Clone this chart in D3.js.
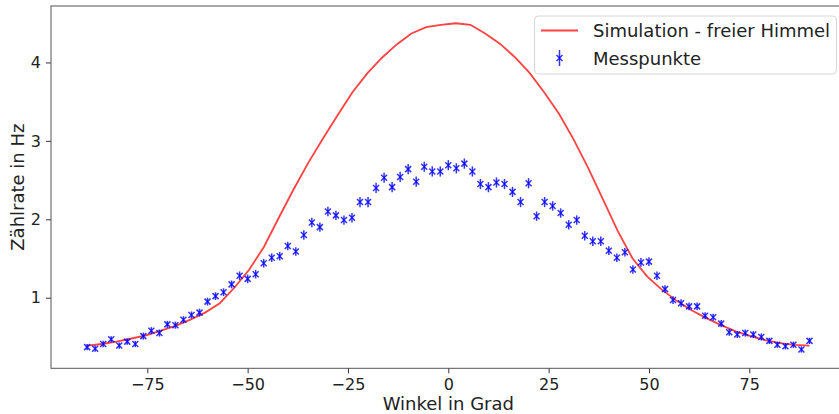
<!DOCTYPE html>
<html>
<head>
<meta charset="utf-8">
<script src="https://cdn.jsdelivr.net/npm/d3@7"></script>
<style>
  body { margin: 0; background: #fff; }
  svg { display: block; font-family: "DejaVu Sans", sans-serif; }
</style>
</head>
<body>
<svg id="chart" width="839" height="414"></svg>
<script>
// Simulation (freier Himmel), 50 Stützstellen
const simWinkel = [-90, -86.33, -82.65, -78.98, -75.31, -71.63, -67.96, -64.29, -60.61, -56.94,
  -53.27, -49.59, -45.92, -42.24, -38.57, -34.9, -31.22, -27.55, -23.88, -20.2,
  -16.53, -12.86, -9.18, -5.51, -1.84, 1.84, 5.51, 9.18, 12.86, 16.53,
  20.2, 23.88, 27.55, 31.22, 34.9, 38.57, 42.24, 45.92, 49.59, 53.27,
  56.94, 60.61, 64.29, 67.96, 71.63, 75.31, 78.98, 82.65, 86.33, 90];
const simRate = [0.39, 0.41, 0.44, 0.48, 0.52, 0.58, 0.64, 0.72, 0.81, 0.93,
  1.13, 1.36, 1.65, 2.02, 2.38, 2.72, 3.03, 3.33, 3.62, 3.86,
  4.06, 4.23, 4.37, 4.45, 4.48, 4.5, 4.48, 4.37, 4.24, 4.07,
  3.87, 3.62, 3.35, 3.02, 2.65, 2.25, 1.85, 1.5, 1.27, 1.1,
  0.96, 0.84, 0.74, 0.65, 0.57, 0.51, 0.46, 0.42, 0.4, 0.39];

// Messpunkte
const messWinkel = [-90, -88, -86, -84, -82, -80, -78, -76, -74, -72, -70, -68, -66, -64, -62, -60,
  -58, -56, -54, -52, -50, -48, -46, -44, -42, -40, -38, -36, -34, -32, -30, -28,
  -26, -24, -22, -20, -18, -16, -14, -12, -10, -8, -6, -4, -2, 0, 2, 4,
  6, 8, 10, 12, 14, 16, 18, 20, 22, 24, 26, 28, 30, 32, 34, 36,
  38, 40, 42, 44, 46, 48, 50, 52, 54, 56, 58, 60, 62, 64, 66, 68,
  70, 72, 74, 76, 78, 80, 82, 84, 86, 88, 90];
const messRate = [0.37, 0.35, 0.41, 0.47, 0.39, 0.44, 0.41, 0.51, 0.58, 0.55, 0.66, 0.65, 0.72, 0.78, 0.81, 0.95,
  1.02, 1.07, 1.17, 1.28, 1.24, 1.30, 1.44, 1.51, 1.53, 1.66, 1.59, 1.80, 1.96, 1.90, 2.10, 2.05,
  1.99, 2.02, 2.22, 2.22, 2.40, 2.53, 2.41, 2.54, 2.64, 2.48, 2.67, 2.61, 2.61, 2.69, 2.65, 2.71,
  2.61, 2.45, 2.41, 2.47, 2.45, 2.35, 2.22, 2.46, 2.04, 2.22, 2.17, 2.08, 1.93, 1.99, 1.79, 1.72,
  1.72, 1.60, 1.51, 1.58, 1.36, 1.45, 1.46, 1.28, 1.11, 0.97, 0.93, 0.89, 0.89, 0.77, 0.75, 0.67,
  0.56, 0.53, 0.55, 0.53, 0.50, 0.45, 0.40, 0.38, 0.40, 0.34, 0.45];
const messFehler = [0.04, 0.04, 0.04, 0.04, 0.04, 0.04, 0.04, 0.045, 0.045, 0.045, 0.045, 0.045, 0.045, 0.045, 0.05, 0.05,
  0.05, 0.05, 0.05, 0.055, 0.055, 0.055, 0.055, 0.055, 0.055, 0.055, 0.055, 0.06, 0.06, 0.06, 0.06, 0.06,
  0.06, 0.06, 0.065, 0.065, 0.065, 0.065, 0.065, 0.065, 0.065, 0.065, 0.065, 0.065, 0.065, 0.065, 0.065, 0.065,
  0.065, 0.065, 0.065, 0.065, 0.065, 0.065, 0.065, 0.065, 0.06, 0.065, 0.06, 0.06, 0.06, 0.06, 0.06, 0.06,
  0.06, 0.055, 0.055, 0.055, 0.055, 0.055, 0.055, 0.055, 0.05, 0.05, 0.05, 0.05, 0.05, 0.045, 0.045, 0.045,
  0.045, 0.045, 0.045, 0.045, 0.045, 0.04, 0.04, 0.04, 0.04, 0.04, 0.04];

const xTicks = [-75, -50, -25, 0, 25, 50, 75];
const yTicks = [1, 2, 3, 4];

const plot = { left: 51, right: 845.6, top: 6, bottom: 368.3 };

const x = d3.scaleLinear().domain([-99, 99]).range([plot.left, plot.right]);
const y = d3.scaleLinear().domain([0.1, 4.72]).range([plot.bottom, plot.top]);

const svg = d3.select("#chart");

// Achsen
svg.append("g")
  .attr("transform", `translate(0,${plot.bottom})`)
  .call(d3.axisBottom(x).tickValues(xTicks).tickSize(5).tickPadding(5)
    .tickFormat(d => d < 0 ? "\u2212" + Math.abs(d) : d))
  .call(g => g.select(".domain").remove())
  .call(g => g.selectAll("line").attr("stroke", "#333"))
  .call(g => g.selectAll("text").attr("font-size", 16).attr("fill", "#222").attr("font-family", "DejaVu Sans"));

svg.append("g")
  .attr("transform", `translate(${plot.left},0)`)
  .call(d3.axisLeft(y).tickValues(yTicks).tickSize(5).tickPadding(5).tickFormat(d3.format("d")))
  .call(g => g.select(".domain").remove())
  .call(g => g.selectAll("line").attr("stroke", "#333"))
  .call(g => g.selectAll("text").attr("font-size", 16).attr("fill", "#222").attr("font-family", "DejaVu Sans"));

// Rahmen
svg.append("rect")
  .attr("x", plot.left).attr("y", plot.top)
  .attr("width", plot.right - plot.left).attr("height", plot.bottom - plot.top)
  .attr("fill", "none").attr("stroke", "#555").attr("stroke-width", 1);

// Achsenbeschriftung
svg.append("text")
  .attr("x", (plot.left + 845.6) / 2).attr("y", 410)
  .attr("text-anchor", "middle").attr("font-size", 18).attr("fill", "#222")
  .text("Winkel in Grad");

svg.append("text")
  .attr("transform", `translate(24,${(plot.top + plot.bottom) / 2}) rotate(-90)`)
  .attr("text-anchor", "middle").attr("font-size", 18).attr("fill", "#222")
  .text("Zählrate in Hz");

// Simulation
const sim = simWinkel.map((w, i) => ({ w: w, r: simRate[i] }));
svg.append("path")
  .datum(sim)
  .attr("fill", "none")
  .attr("stroke", "#ff2020")
  .attr("stroke-opacity", 0.85)
  .attr("stroke-width", 1.8)
  .attr("d", d3.line().x(d => x(d.w)).y(d => y(d.r)));

// Messpunkte mit Fehlerbalken
const mess = messWinkel.map((w, i) => ({ w: w, r: messRate[i], f: messFehler[i] }));
const pts = svg.append("g").attr("stroke", "#0000ff").attr("stroke-opacity", 0.8).attr("stroke-width", 1.5);
const m = 3;
pts.selectAll("g")
  .data(mess)
  .enter()
  .append("g")
  .each(function (d) {
    const g = d3.select(this);
    const cx = x(d.w), cy = y(d.r);
    g.append("line").attr("x1", cx).attr("x2", cx).attr("y1", y(d.r - d.f)).attr("y2", y(d.r + d.f));
    g.append("path").attr("d", `M${cx - m},${cy - m}L${cx + m},${cy + m}M${cx - m},${cy + m}L${cx + m},${cy - m}`);
  });

// Legende
const leg = svg.append("g");
leg.append("rect")
  .attr("x", 534.5).attr("y", 16).attr("width", 302).attr("height", 58)
  .attr("rx", 4).attr("fill", "#fff").attr("fill-opacity", 0.8)
  .attr("stroke", "#d6d6d6");
leg.append("line")
  .attr("x1", 541).attr("x2", 578).attr("y1", 30.5).attr("y2", 30.5)
  .attr("stroke", "#ff2020").attr("stroke-opacity", 0.85).attr("stroke-width", 1.8);
leg.append("text").attr("x", 593).attr("y", 37).attr("font-size", 18).attr("fill", "#222")
  .text("Simulation - freier Himmel");
const lm = leg.append("g").attr("stroke", "#0000ff").attr("stroke-opacity", 0.8).attr("stroke-width", 1.5);
lm.append("line").attr("x1", 559.5).attr("x2", 559.5).attr("y1", 50).attr("y2", 66);
lm.append("path").attr("d", `M${559.5 - m},${58 - m}L${559.5 + m},${58 + m}M${559.5 - m},${58 + m}L${559.5 + m},${58 - m}`);
leg.append("text").attr("x", 593).attr("y", 65).attr("font-size", 18).attr("fill", "#222")
  .text("Messpunkte");
</script>
</body>
</html>
